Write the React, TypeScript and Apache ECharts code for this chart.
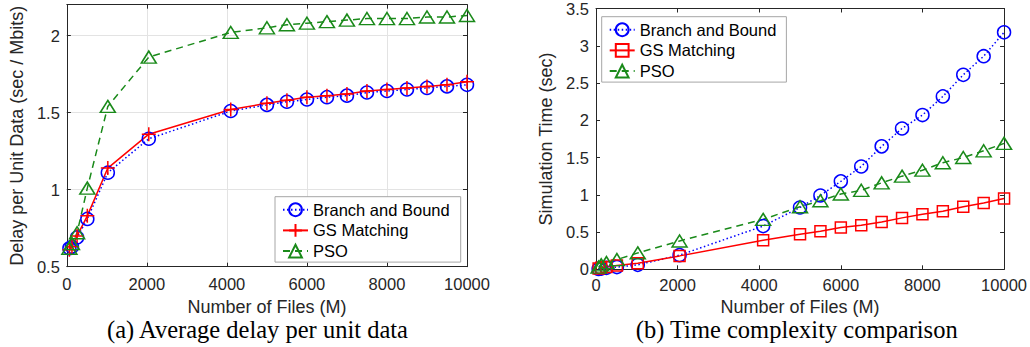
import React, { useEffect, useRef } from 'react';
import * as echarts from 'echarts';

// ---------- data ----------
const xFiles = [64, 128, 256, 512, 1024, 2048, 4096, 5000, 5500, 6000, 6500, 7000, 7500, 8000, 8500, 9000, 9500, 10000];

const delayBnB = [0.62, 0.63, 0.69, 0.81, 1.11, 1.33, 1.51, 1.55, 1.57, 1.585, 1.6, 1.61, 1.63, 1.64, 1.65, 1.66, 1.67, 1.68];
const delayGS = [0.61, 0.63, 0.7, 0.83, 1.14, 1.36, 1.52, 1.56, 1.58, 1.6, 1.61, 1.62, 1.64, 1.65, 1.66, 1.67, 1.68, 1.7];
const delayPSO = [0.62, 0.65, 0.72, 1.01, 1.54, 1.86, 2.02, 2.05, 2.07, 2.08, 2.09, 2.1, 2.11, 2.11, 2.11, 2.12, 2.12, 2.13];

const timeBnB = [0.005, 0.01, 0.02, 0.03, 0.06, 0.19, 0.58, 0.83, 0.99, 1.18, 1.38, 1.65, 1.89, 2.07, 2.32, 2.61, 2.86, 3.18];
const timeGS = [0.01, 0.02, 0.03, 0.05, 0.08, 0.18, 0.39, 0.47, 0.51, 0.56, 0.59, 0.635, 0.69, 0.74, 0.78, 0.84, 0.89, 0.95];
const timePSO = [0.03, 0.06, 0.09, 0.13, 0.22, 0.38, 0.67, 0.84, 0.92, 1.01, 1.06, 1.16, 1.25, 1.33, 1.43, 1.5, 1.59, 1.69];

const seriesNames = ['Branch and Bound', 'GS Matching', 'PSO'];
const xTitle = 'Number of Files (M)';
const yTitleA = 'Delay per Unit Data (sec / Mbits)';
const yTitleB = 'Simulation Time (sec)';
const captionA = '(a) Average delay per unit data';
const captionB = '(b) Time complexity comparison';

// ---------- styles ----------
const AX = '#262626';
const SANS = 'Liberation Sans';
const SERIF = 'Liberation Serif';
const BLUE = '#0000ff';
const RED = '#ff0000';
const GREEN = '#1a8a1a';
const PLUS = 'path://M0,5L10,5M5,0L5,10';

const pairs = (xs: number[], ys: number[]) => xs.map((x, i) => [x, ys[i]]);

function mkSeries(name: string, data: number[][], symbol: string, size: any, color: string, lineType: any) {
  return {
    type: 'line',
    name,
    data,
    xAxisIndex: 0,
    yAxisIndex: 0,
    symbol,
    symbolSize: size,
    showAllSymbol: true,
    itemStyle: { color: 'transparent', borderColor: color, borderWidth: 1.5 },
    lineStyle: { color, width: 1.5, type: lineType },
    emphasis: { disabled: true },
    z: 3,
  };
}

function buildOption(cfg: {
  grid: any; yMin: number; yMax: number; yTitle: string; yNameGap: number; xNameGap: number; xLabelMargin: number;
  showGrid: boolean; series: any[]; legend: any; caption: string; capX: number;
}) {
  const tick = { show: true, inside: true, length: 4, lineStyle: { color: AX, width: 1 } };
  const line = { show: true, onZero: false, lineStyle: { color: AX, width: 1 } };
  const split = { show: cfg.showGrid, lineStyle: { color: '#e3e3e3', width: 1 } };
  const lbl = { color: AX, fontSize: 16.5, fontFamily: SANS };
  return {
    animation: false,
    backgroundColor: '#ffffff',
    grid: cfg.grid,
    xAxis: [
      {
        type: 'value', min: 0, max: 10000, interval: 2000, position: 'bottom',
        axisLine: line, axisTick: tick, splitLine: split,
        axisLabel: { ...lbl, margin: cfg.xLabelMargin, formatter: (v: number) => String(v) },
        name: xTitle, nameLocation: 'middle', nameGap: cfg.xNameGap,
        nameTextStyle: { color: AX, fontSize: 18, fontFamily: SANS, lineHeight: 18 },
      },
      {
        type: 'value', min: 0, max: 10000, interval: 2000, position: 'top',
        axisLine: line, axisTick: tick, splitLine: { show: false }, axisLabel: { show: false },
      },
    ],
    yAxis: [
      {
        type: 'value', min: cfg.yMin, max: cfg.yMax, interval: 0.5, position: 'left',
        axisLine: line, axisTick: tick, splitLine: split,
        axisLabel: { ...lbl, margin: 7, showMaxLabel: cfg.yMax === 3.5, formatter: (v: number) => String(v) },
        name: cfg.yTitle, nameLocation: 'middle', nameGap: cfg.yNameGap,
        nameTextStyle: { color: AX, fontSize: 18, fontFamily: SANS },
      },
      {
        type: 'value', min: cfg.yMin, max: cfg.yMax, interval: 0.5, position: 'right',
        axisLine: line, axisTick: tick, splitLine: { show: false }, axisLabel: { show: false },
      },
    ],
    legend: {
      orient: 'vertical',
      ...cfg.legend,
      data: seriesNames,
      itemWidth: 25,
      itemHeight: 16,
      itemGap: 0.7,
      backgroundColor: '#ffffff',
      borderColor: '#a6a6a6',
      borderWidth: 1,
      borderRadius: 0,
      selectedMode: false,
      textStyle: { color: '#000', fontSize: 16.5, fontFamily: SANS, lineHeight: 20 },
    },
    graphic: [
      {
        type: 'text', x: cfg.capX, y: 317, silent: true,
        style: {
          text: cfg.caption, fill: '#000', fontSize: 24.5, fontFamily: SERIF,
          textAlign: 'center', textVerticalAlign: 'top',
        },
      },
    ],
    series: cfg.series,
  };
}

function ChartBox({ option, style }: { option: any; style: any }) {
  const ref = useRef<HTMLDivElement>(null);
  useEffect(() => {
    if (!ref.current) return;
    const chart = echarts.init(ref.current, undefined, { renderer: 'svg' });
    chart.setOption(option);
    return () => chart.dispose();
  }, [option]);
  return <div ref={ref} style={style} />;
}

const optionA = buildOption({
  grid: { left: 57, top: 4.7, width: 410, height: 262, containLabel: false },
  yMin: 0.5, yMax: 2.2, yTitle: yTitleA, yNameGap: 31, xNameGap: 27, xLabelMargin: 9,
  showGrid: true,
  series: [
    mkSeries(seriesNames[0], pairs(xFiles, delayBnB), 'circle', 13, BLUE, [1.5, 2.5]),
    mkSeries(seriesNames[1], pairs(xFiles, delayGS), PLUS, 14, RED, 'solid'),
    mkSeries(seriesNames[2], pairs(xFiles, delayPSO), 'triangle', [15, 12], GREEN, [7, 5]),
  ],
  legend: { left: 275, top: 196.7, padding: [3, 11, 1, 7] },
  caption: captionA, capX: 257.5,
});

const optionB = buildOption({
  grid: { left: 81, top: 7.3, width: 409, height: 262, containLabel: false },
  yMin: 0, yMax: 3.5, yTitle: yTitleB, yNameGap: 35, xNameGap: 26, xLabelMargin: 7,
  showGrid: false,
  series: [
    mkSeries(seriesNames[0], pairs(xFiles, timeBnB), 'circle', 13, BLUE, [1.5, 2.5]),
    mkSeries(seriesNames[1], pairs(xFiles, timeGS), 'rect', 11, RED, 'solid'),
    mkSeries(seriesNames[2], pairs(xFiles, timePSO), 'triangle', [15, 12], GREEN, [7, 5]),
  ],
  legend: { left: 86.7, top: 16.7, padding: [3, 10, 1, 7] },
  caption: captionB, capX: 281.7,
});

export default function App() {
  return (
    <div style={{ position: 'absolute', left: 0, top: 0, width: 1030, height: 347, background: '#fff', overflow: 'hidden' }}>
      <ChartBox option={optionA} style={{ position: 'absolute', left: 0, top: 0, width: 515, height: 347 }} />
      <ChartBox option={optionB} style={{ position: 'absolute', left: 515, top: 0, width: 515, height: 347 }} />
    </div>
  );
}
